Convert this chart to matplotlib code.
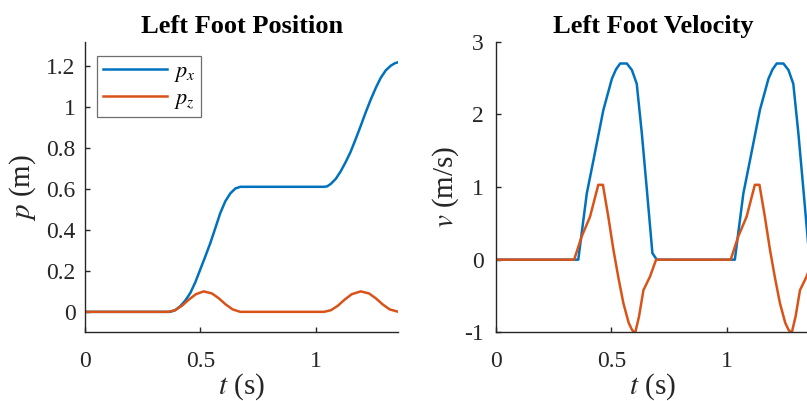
import numpy as np
import matplotlib
matplotlib.use("Agg")
import matplotlib.pyplot as plt

# Left foot position (m)
t_px = [0, 0.369, 0.39, 0.412, 0.434, 0.456, 0.478, 0.499, 0.521, 0.543, 0.565,
        0.586, 0.608, 0.630, 0.652, 0.674, 0.69, 1.037, 1.05, 1.066, 1.088, 1.109,
        1.13, 1.152, 1.174, 1.196, 1.218, 1.24, 1.262, 1.283, 1.305, 1.327, 1.345, 1.36]
px = [0, 0, 0.008, 0.027, 0.055, 0.092, 0.145, 0.206, 0.27, 0.336, 0.41,
      0.482, 0.54, 0.579, 0.603, 0.611, 0.611, 0.611, 0.613, 0.625, 0.65, 0.686,
      0.73, 0.781, 0.843, 0.908, 0.975, 1.038, 1.095, 1.143, 1.18, 1.203, 1.215, 1.22]

t_pz = [0, 0.362, 0.39, 0.42, 0.45, 0.48, 0.514, 0.55, 0.58, 0.61, 0.64, 0.673,
        1.037, 1.067, 1.097, 1.127, 1.157, 1.196, 1.232, 1.262, 1.292, 1.322, 1.36]
pz = [0, 0, 0.008, 0.03, 0.06, 0.086, 0.1, 0.09, 0.066, 0.036, 0.012, 0,
      0, 0.008, 0.03, 0.06, 0.086, 0.1, 0.09, 0.066, 0.036, 0.012, 0]

# Left foot velocity (m/s)
t_vx = [0, 0.356, 0.393, 0.422, 0.465, 0.502, 0.52, 0.538, 0.567, 0.589, 0.61,
        0.632, 0.654, 0.678, 0.697, 1.036, 1.073, 1.102, 1.145, 1.182, 1.2, 1.218,
        1.247, 1.269, 1.29, 1.312, 1.334, 1.358, 1.377]
vx = [0, 0, 0.91, 1.37, 2.06, 2.49, 2.62, 2.70, 2.70, 2.61, 2.42,
      1.74, 0.96, 0.09, 0, 0, 0.91, 1.37, 2.06, 2.49, 2.62, 2.70,
      2.70, 2.61, 2.42, 1.74, 0.96, 0.09, 0]

t_vz = [0, 0.338, 0.371, 0.407, 0.443, 0.463, 0.486, 0.509, 0.531, 0.552, 0.575,
        0.59, 0.603, 0.62, 0.639, 0.668, 0.694,
        1.018, 1.051, 1.087, 1.123, 1.143, 1.166, 1.189, 1.211, 1.232, 1.255,
        1.27, 1.283, 1.30, 1.319, 1.348, 1.374]
vz = [0, 0, 0.32, 0.59, 1.03, 1.03, 0.6, 0.13, -0.26, -0.60, -0.87,
      -0.97, -1.01, -0.78, -0.42, -0.23, 0,
      0, 0.32, 0.59, 1.03, 1.03, 0.6, 0.13, -0.26, -0.60, -0.87,
      -0.97, -1.01, -0.78, -0.42, -0.23, 0]

blue = "#0072BD"
orange = "#D95319"
dark = "#262626"

plt.rcParams["font.family"] = ["Liberation Serif", "DejaVu Serif"]
plt.rcParams["mathtext.fontset"] = "stix"
plt.rcParams["axes.unicode_minus"] = False

fig = plt.figure(figsize=(8.07, 4.01), dpi=100)
ax1 = fig.add_axes([0.1057, 0.1713, 0.388, 0.7247])
ax2 = fig.add_axes([0.615, 0.1713, 0.388, 0.7247])

ax1.plot(t_px, px, color=blue, lw=1.8, label="$p_x$")
ax1.plot(t_pz, pz, color=orange, lw=1.8, label="$p_z$")
ax2.plot(t_vx, vx, color=blue, lw=1.8)
ax2.plot(t_vz, vz, color=orange, lw=1.8)

ax1.set_xlim(0, 1.36)
ax1.set_ylim(-0.1, 1.32)
ax1.set_xticks([0, 0.5, 1])
ax1.set_xticklabels(["0", "0.5", "1"])
ax1.set_yticks([0, 0.2, 0.4, 0.6, 0.8, 1.0, 1.2])
ax1.set_yticklabels(["0", "0.2", "0.4", "0.6", "0.8", "1", "1.2"])

ax2.set_xlim(0, 1.36)
ax2.set_ylim(-1, 3)
ax2.set_xticks([0, 0.5, 1])
ax2.set_xticklabels(["0", "0.5", "1"])
ax2.set_yticks([-1, 0, 1, 2, 3])

for ax in (ax1, ax2):
    ax.spines["top"].set_visible(False)
    ax.spines["right"].set_visible(False)
    for s in ("left", "bottom"):
        ax.spines[s].set_linewidth(1.0)
        ax.spines[s].set_color(dark)
    ax.tick_params(direction="in", length=3.5, width=1.0, color=dark,
                   labelsize=17, labelcolor=dark)
    ax.tick_params(axis="x", pad=13.5)
    ax.set_xlabel("$t$ (s)", fontsize=21, color=dark, labelpad=-0.5)

ax1.tick_params(axis="y", pad=7)
ax2.tick_params(axis="y", pad=9)

ax1.set_ylabel("$p$ (m)", fontsize=21, color=dark, labelpad=6)
ax2.set_ylabel("$v$ (m/s)", fontsize=21, color=dark, labelpad=2)

ax1.set_title("Left Foot Position", fontsize=19, fontweight="bold", pad=6)
ax2.set_title("Left Foot Velocity", fontsize=19, fontweight="bold", pad=6)

leg = ax1.legend(loc="upper left", bbox_to_anchor=(0.038, 0.951), borderaxespad=0,
                 fontsize=16, handlelength=2.9, fancybox=False, framealpha=1,
                 edgecolor="#6e6e6e", borderpad=0.25, labelspacing=0.2,
                 handletextpad=0.3)
leg.get_frame().set_linewidth(0.9)

fig.savefig("out.png", dpi=100)
